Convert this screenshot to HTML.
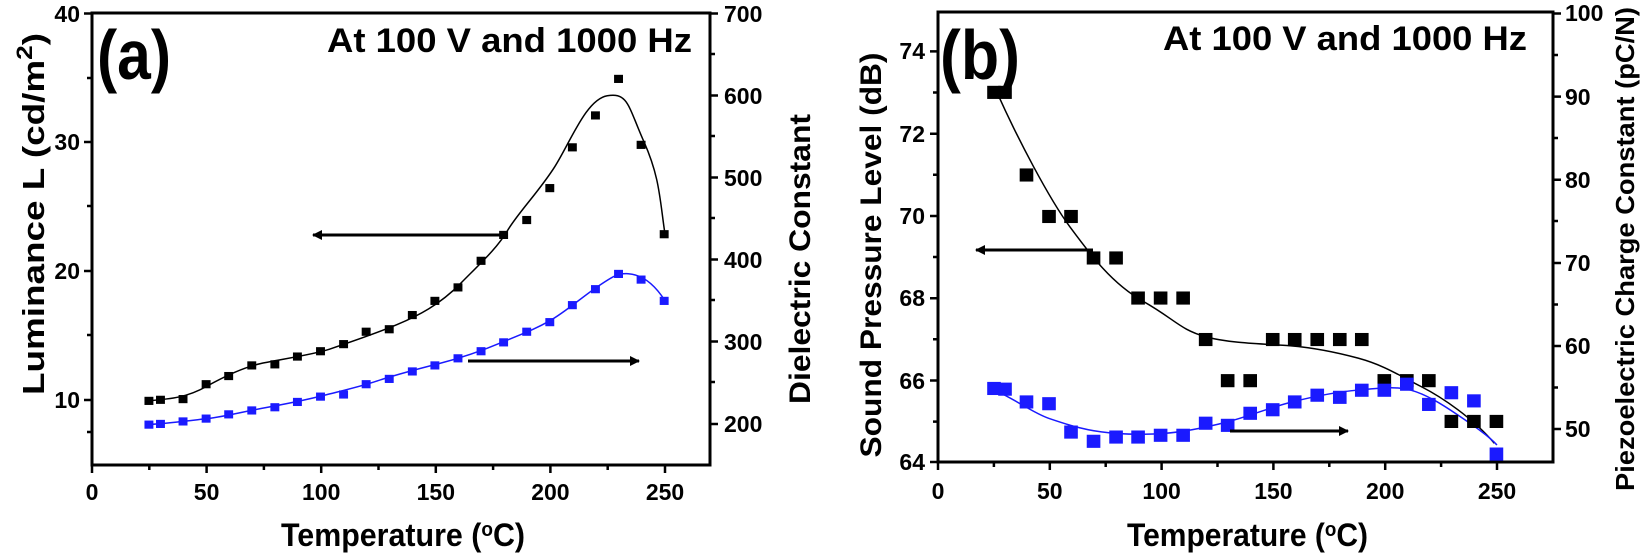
<!DOCTYPE html>
<html><head><meta charset="utf-8"><style>
html,body{margin:0;padding:0;background:#fff;}
svg{display:block;font-family:"Liberation Sans",Arial,sans-serif;font-weight:bold;}
</style></head><body>
<svg width="1640" height="556" viewBox="0 0 1640 556" xmlns="http://www.w3.org/2000/svg">
<rect width="1640" height="556" fill="#fff"/>
<defs>
<marker id="ah" viewBox="0 0 10 10" refX="9" refY="5" markerWidth="13" markerHeight="10" orient="auto-start-reverse" markerUnits="userSpaceOnUse"><path d="M0,0 L10,5 L0,10 z" fill="#000"/></marker>
</defs>

<!-- ===== Panel A ===== -->
<g stroke="#000" stroke-width="3" fill="none">
<rect x="92" y="13" width="618" height="452"/>
</g>
<g stroke="#000" stroke-width="2.5">
<path d="M92,465v8M149.3,465v5M206.6,465v8M263.9,465v5M321.2,465v8M378.5,465v5M435.8,465v8M493.1,465v5M550.4,465v8M607.7,465v5M665,465v8"/>
<path d="M92,13.5h-8M92,78h-5M92,142h-8M92,206h-5M92,271h-8M92,335h-5M92,400h-8M92,432h-5"/>
<path d="M710,13.5h8M710,54h5M710,95.5h8M710,136h5M710,177.5h8M710,218h5M710,259.5h8M710,300h5M710,341.5h8M710,382h5M710,424h8"/>
</g>
<g font-size="23" fill="#000">
<g text-anchor="middle">
<text x="92" y="500">0</text><text x="206.6" y="500">50</text><text x="321.2" y="500">100</text><text x="435.8" y="500">150</text><text x="550.4" y="500">200</text><text x="665" y="500">250</text>
</g>
<g text-anchor="end">
<text x="80" y="22">40</text><text x="80" y="150">30</text><text x="80" y="279">20</text><text x="80" y="408">10</text>
</g>
<g>
<text x="724" y="22">700</text><text x="724" y="104">600</text><text x="724" y="186">500</text><text x="724" y="268">400</text><text x="724" y="350">300</text><text x="724" y="432">200</text>
</g>
</g>
<text x="281" y="546" font-size="32" textLength="244" lengthAdjust="spacingAndGlyphs">Temperature (<tspan font-size="20" dy="-10">o</tspan><tspan dy="10">C)</tspan></text>
<text transform="translate(44,214) rotate(-90)" font-size="31" text-anchor="middle" textLength="362" lengthAdjust="spacingAndGlyphs">Luminance L (cd/m<tspan font-size="22" dy="-12">2</tspan><tspan dy="12">)</tspan></text>
<text transform="translate(810,259) rotate(-90)" font-size="30" text-anchor="middle" textLength="290" lengthAdjust="spacingAndGlyphs">Dielectric Constant</text>
<text x="97" y="79" font-size="70" textLength="74" lengthAdjust="spacingAndGlyphs">(a)</text>
<text x="327" y="52" font-size="34" textLength="365" lengthAdjust="spacingAndGlyphs">At 100 V and 1000 Hz</text>

<g transform="translate(-1.4,0) scale(0.5247,0.3546)">
<path fill="none" stroke="#000" stroke-width="1.5" vector-effect="non-scaling-stroke" d="M287,1130 C330,1125 360,1120 396,1090 S470,1035 500,1025 S600,1000 630,985 S720,940 760,915 S840,860 880,800 S950,700 970,650 S1030,540 1060,470 S1120,280 1160,270 S1200,300 1230,400 S1260,560 1270,660"/>
<path fill="none" stroke="#1a1aff" stroke-width="1.5" vector-effect="non-scaling-stroke" d="M287,1197 C330,1193 370,1185 400,1180 S470,1160 500,1152 S580,1130 620,1115 S690,1090 720,1075 S800,1040 840,1025 S920,990 960,965 S1020,930 1050,905 S1110,840 1140,810 S1180,770 1200,772 S1245,790 1270,848"/>
<g fill="#000">
<rect x="278" y="1119" width="17" height="23"/><rect x="300" y="1116" width="17" height="23"/><rect x="343" y="1114" width="17" height="23"/><rect x="387" y="1072" width="17" height="23"/><rect x="430" y="1049" width="17" height="23"/><rect x="474" y="1019" width="17" height="23"/><rect x="518" y="1016" width="17" height="23"/><rect x="561" y="994" width="17" height="23"/><rect x="605" y="979" width="17" height="23"/><rect x="649" y="959" width="17" height="23"/><rect x="692" y="924" width="17" height="23"/><rect x="736" y="917" width="17" height="23"/><rect x="780" y="877" width="17" height="23"/><rect x="823" y="837" width="17" height="23"/><rect x="867" y="799" width="17" height="23"/><rect x="911" y="724" width="17" height="23"/><rect x="954" y="651" width="17" height="23"/><rect x="998" y="609" width="17" height="23"/><rect x="1042" y="519" width="17" height="23"/><rect x="1085" y="404" width="17" height="23"/><rect x="1129" y="314" width="17" height="23"/><rect x="1173" y="211" width="17" height="23"/><rect x="1216" y="397" width="17" height="23"/><rect x="1260" y="649" width="17" height="23"/>
</g>
<g fill="#1a1aff">
<rect x="278" y="1186" width="17" height="23"/><rect x="300" y="1184" width="17" height="23"/><rect x="343" y="1177" width="17" height="23"/><rect x="387" y="1169" width="17" height="23"/><rect x="430" y="1157" width="17" height="23"/><rect x="474" y="1146" width="17" height="23"/><rect x="518" y="1137" width="17" height="23"/><rect x="561" y="1122" width="17" height="23"/><rect x="605" y="1107" width="17" height="23"/><rect x="649" y="1101" width="17" height="23"/><rect x="692" y="1072" width="17" height="23"/><rect x="736" y="1057" width="17" height="23"/><rect x="780" y="1036" width="17" height="23"/><rect x="823" y="1019" width="17" height="23"/><rect x="867" y="999" width="17" height="23"/><rect x="911" y="979" width="17" height="23"/><rect x="954" y="954" width="17" height="23"/><rect x="998" y="924" width="17" height="23"/><rect x="1042" y="897" width="17" height="23"/><rect x="1085" y="849" width="17" height="23"/><rect x="1129" y="804" width="17" height="23"/><rect x="1173" y="761" width="17" height="23"/><rect x="1216" y="777" width="17" height="23"/><rect x="1260" y="837" width="17" height="23"/>
</g>
</g>
<line x1="504" y1="235" x2="313" y2="235" stroke="#000" stroke-width="3" marker-end="url(#ah)"/>
<line x1="468" y1="361" x2="639" y2="361" stroke="#000" stroke-width="3" marker-end="url(#ah)"/>

<!-- ===== Panel B ===== -->
<g stroke="#000" stroke-width="3" fill="none">
<rect x="938" y="12" width="615" height="450"/>
</g>
<g stroke="#000" stroke-width="2.5">
<path d="M938,462v8M993.9,462v5M1049.8,462v8M1105.7,462v5M1161.6,462v8M1217.5,462v5M1273.4,462v8M1329.3,462v5M1385.2,462v8M1441.1,462v5M1497,462v8"/>
<path d="M938,51.4h-8M938,92.5h-5M938,133.7h-8M938,174.8h-5M938,216h-8M938,257h-5M938,298.2h-8M938,339.3h-5M938,380.5h-8M938,421.6h-5M938,462h-8"/>
<path d="M1553,13.5h8M1553,55h5M1553,96.6h8M1553,138h5M1553,179.8h8M1553,221h5M1553,263h8M1553,304.5h5M1553,346h8M1553,387.5h5M1553,429h8"/>
</g>
<g font-size="23" fill="#000">
<g text-anchor="middle">
<text x="938" y="499">0</text><text x="1049.8" y="499">50</text><text x="1161.6" y="499">100</text><text x="1273.4" y="499">150</text><text x="1385.2" y="499">200</text><text x="1497" y="499">250</text>
</g>
<g text-anchor="end">
<text x="925" y="59">74</text><text x="925" y="142">72</text><text x="925" y="224">70</text><text x="925" y="306">68</text><text x="925" y="389">66</text><text x="925" y="470">64</text>
</g>
<g>
<text x="1565" y="21">100</text><text x="1565" y="105">90</text><text x="1565" y="188">80</text><text x="1565" y="271">70</text><text x="1565" y="354">60</text><text x="1565" y="437">50</text>
</g>
</g>
<text x="1127" y="546" font-size="32" textLength="241" lengthAdjust="spacingAndGlyphs">Temperature (<tspan font-size="20" dy="-10">o</tspan><tspan dy="10">C)</tspan></text>
<text transform="translate(881,255) rotate(-90)" font-size="30" text-anchor="middle" textLength="405" lengthAdjust="spacingAndGlyphs">Sound Pressure Level (dB)</text>
<text transform="translate(1634,249) rotate(-90)" font-size="26" text-anchor="middle" textLength="484" lengthAdjust="spacingAndGlyphs">Piezoelectric Charge Constant (pC/N)</text>
<text x="940" y="79" font-size="70" textLength="80" lengthAdjust="spacingAndGlyphs">(b)</text>
<text x="1163" y="50" font-size="34" textLength="364" lengthAdjust="spacingAndGlyphs">At 100 V and 1000 Hz</text>

<g transform="translate(818.5,0) scale(0.5239,0.3546)">
<path fill="none" stroke="#000" stroke-width="1.5" vector-effect="non-scaling-stroke" d="M342,265 C380,390 440,560 480,640 S560,800 620,850 S690,930 740,950 S860,970 900,975 S980,990 1030,1010 S1110,1060 1150,1090 S1250,1180 1290,1250"/>
<path fill="none" stroke="#1a1aff" stroke-width="1.5" vector-effect="non-scaling-stroke" d="M336,1100 C380,1130 410,1165 440,1180 S500,1210 540,1218 S620,1226 660,1222 S740,1205 780,1190 S860,1150 900,1135 S990,1105 1030,1100 S1100,1088 1130,1100 S1190,1140 1220,1170 S1280,1230 1295,1255"/>
<g fill="#000">
<rect x="322" y="242" width="26" height="37"/><rect x="343" y="242" width="26" height="37"/><rect x="384" y="475" width="26" height="37"/><rect x="427" y="592" width="26" height="37"/><rect x="469" y="592" width="26" height="37"/><rect x="512" y="709" width="26" height="37"/><rect x="555" y="709" width="26" height="37"/><rect x="597" y="822" width="26" height="37"/><rect x="640" y="822" width="26" height="37"/><rect x="683" y="822" width="26" height="37"/><rect x="726" y="939" width="26" height="37"/><rect x="768" y="1055" width="26" height="37"/><rect x="811" y="1055" width="26" height="37"/><rect x="854" y="939" width="26" height="37"/><rect x="896" y="939" width="26" height="37"/><rect x="939" y="939" width="26" height="37"/><rect x="982" y="939" width="26" height="37"/><rect x="1024" y="939" width="26" height="37"/><rect x="1067" y="1055" width="26" height="37"/><rect x="1110" y="1055" width="26" height="37"/><rect x="1152" y="1055" width="26" height="37"/><rect x="1195" y="1170" width="26" height="37"/><rect x="1238" y="1170" width="26" height="37"/><rect x="1281" y="1170" width="26" height="37"/>
</g>
<g fill="#1a1aff">
<rect x="322" y="1077" width="26" height="37"/><rect x="343" y="1079" width="26" height="37"/><rect x="384" y="1115" width="26" height="37"/><rect x="427" y="1120" width="26" height="37"/><rect x="469" y="1200" width="26" height="37"/><rect x="512" y="1226" width="26" height="37"/><rect x="555" y="1214" width="26" height="37"/><rect x="597" y="1214" width="26" height="37"/><rect x="640" y="1209" width="26" height="37"/><rect x="683" y="1209" width="26" height="37"/><rect x="726" y="1175" width="26" height="37"/><rect x="768" y="1181" width="26" height="37"/><rect x="811" y="1147" width="26" height="37"/><rect x="854" y="1137" width="26" height="37"/><rect x="896" y="1115" width="26" height="37"/><rect x="939" y="1096" width="26" height="37"/><rect x="982" y="1102" width="26" height="37"/><rect x="1024" y="1082" width="26" height="37"/><rect x="1067" y="1082" width="26" height="37"/><rect x="1110" y="1065" width="26" height="37"/><rect x="1152" y="1122" width="26" height="37"/><rect x="1195" y="1089" width="26" height="37"/><rect x="1238" y="1112" width="26" height="37"/><rect x="1281" y="1262" width="26" height="37"/>
</g>
</g>
<line x1="1093" y1="250" x2="976" y2="250" stroke="#000" stroke-width="3" marker-end="url(#ah)"/>
<line x1="1230" y1="431" x2="1348" y2="431" stroke="#000" stroke-width="3" marker-end="url(#ah)"/>
</svg>
</body></html>
